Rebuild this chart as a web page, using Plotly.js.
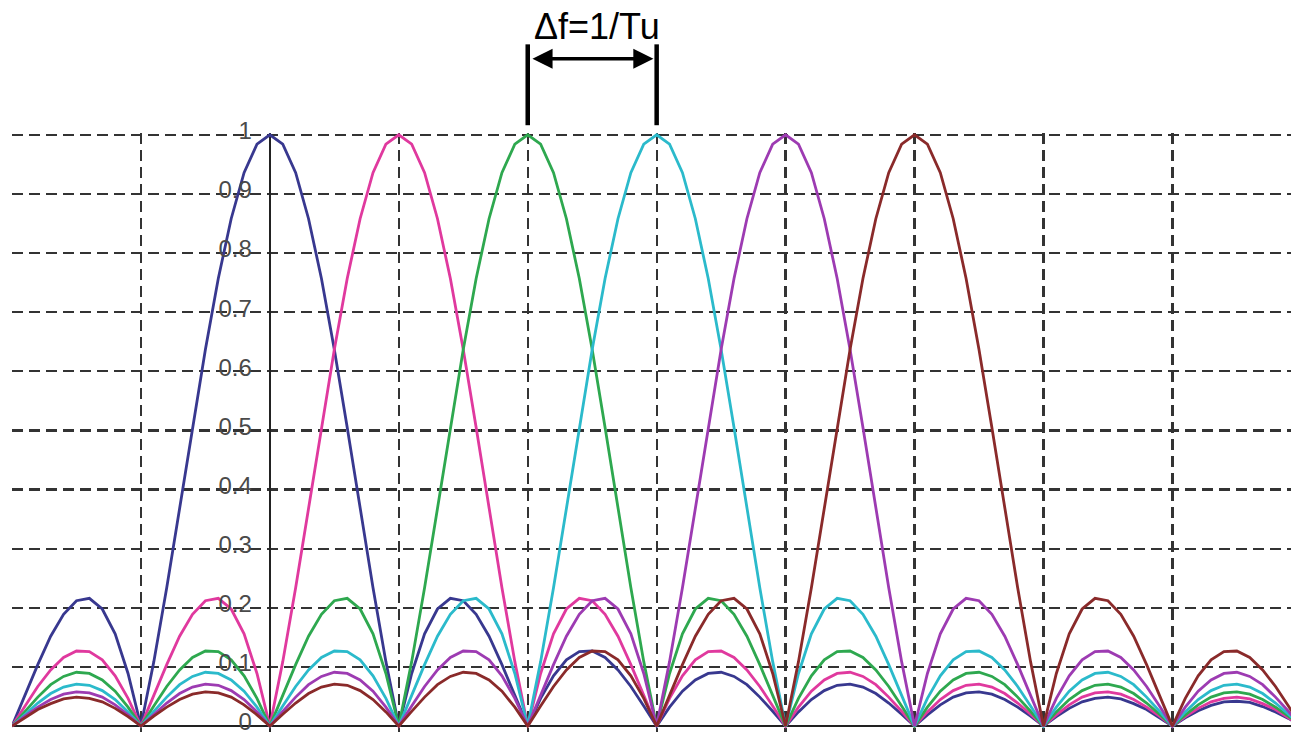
<!DOCTYPE html>
<html>
<head>
<meta charset="utf-8">
<script src="https://cdn.plot.ly/plotly-3.0.1.min.js"></script>
<style>html,body{margin:0;padding:0;background:#fff}#chart{width:1291px;height:736px}</style>
</head>
<body>
<div id="chart"></div>
<script>
// Subcarrier centre frequencies (in units of 1/Tu)
const centers = [0, 1, 2, 3, 4, 5];
const seriesNames = ['sub 0', 'sub 1', 'sub 2', 'sub 3', 'sub 4', 'sub 5'];
const colors = ['#38388f', '#e0399e', '#2ea84f', '#2bbacb', '#9d3bb2', '#8a2a2a'];
const pulseMag = [
  1.000, 0.984, 0.936, 0.858, 0.757, 0.637, 0.505, 0.368, 0.234, 0.109,
  0.000, 0.089, 0.156, 0.198, 0.216, 0.212, 0.189, 0.152, 0.104, 0.052,
  0.000, 0.047, 0.085, 0.112, 0.126, 0.127, 0.116, 0.095, 0.067, 0.034,
  0.000, 0.032, 0.059, 0.078, 0.089, 0.091, 0.084, 0.070, 0.049, 0.025,
  0.000, 0.024, 0.045, 0.060, 0.069, 0.071, 0.066, 0.055, 0.039, 0.020,
  0.000, 0.019, 0.036, 0.049, 0.056, 0.058, 0.054, 0.045, 0.032, 0.017,
  0.000, 0.016, 0.030, 0.041, 0.047, 0.049, 0.046, 0.038, 0.028, 0.014,
  0.000, 0.014, 0.026, 0.035, 0.041, 0.042, 0.040, 0.033, 0.024, 0.013,
  0.000
];
const yTickVals = [0, 0.1, 0.2, 0.3, 0.4, 0.5, 0.6, 0.7, 0.8, 0.9, 1];
const yTickText = ['0', '0.1', '0.2', '0.3', '0.4', '0.5', '0.6', '0.7', '0.8', '0.9', '1'];
const annotationText = 'Δf=1/Tu';
const spacingFrom = 2, spacingTo = 3;

const xMin = -2, xMax = 7.92;
const traces = centers.map((c, i) => {
  const xs = [], ys = [];
  for (let k = -(pulseMag.length - 1); k <= pulseMag.length - 1; k++) {
    const x = c + k / 10;
    if (x < xMin - 0.001 || x > xMax + 0.1) continue;
    xs.push(x);
    ys.push(pulseMag[Math.abs(k)]);
  }
  return {x: xs, y: ys, type: 'scatter', mode: 'lines', name: seriesNames[i],
          line: {color: colors[i], width: 2.8}, hoverinfo: 'skip'};
});

const pos0 = (0 - xMin) / (xMax - xMin);
const layout = {
  width: 1291, height: 736,
  margin: {l: 12, r: 0, t: 133, b: 4},
  paper_bgcolor: '#fff', plot_bgcolor: '#fff',
  showlegend: false,
  font: {family: 'Liberation Sans, Arial, sans-serif'},
  xaxis: {
    range: [xMin, xMax], dtick: 1, tick0: 0,
    showticklabels: false, ticks: '',
    showgrid: true, gridcolor: '#333', gridwidth: 2.3, griddash: '11px,6px',
    zeroline: true, zerolinecolor: '#222', zerolinewidth: 2,
    showline: false
  },
  yaxis: {
    range: [-0.01, 1.003], anchor: 'free', position: pos0,
    tickvals: yTickVals, ticktext: yTickText, ticks: '',
    ticklabelstandoff: 18, ticklabelshift: -4, ticklabeloverflow: 'allow',
    tickfont: {size: 24, color: '#4a4a4a', family: 'Liberation Sans, Arial, sans-serif'},
    showgrid: true, gridcolor: '#333', gridwidth: 2.3, griddash: '11px,6px',
    zeroline: true, zerolinecolor: '#222', zerolinewidth: 2,
    showline: false
  },
  shapes: [
    {type: 'line', xref: 'x', yref: 'paper', x0: spacingFrom, x1: spacingFrom, y0: 1.013, y1: 1.148,
     line: {color: '#000', width: 4.5}},
    {type: 'line', xref: 'x', yref: 'paper', x0: spacingTo, x1: spacingTo, y0: 1.013, y1: 1.148,
     line: {color: '#000', width: 4.5}}
  ],
  annotations: [
    {xref: 'x', yref: 'paper', x: (spacingFrom + spacingTo) / 2 + 0.035, y: 1.177, yanchor: 'middle',
     text: annotationText, showarrow: false,
     font: {size: 36, color: '#000', family: 'Liberation Sans, Arial, sans-serif'}},
    {xref: 'x', yref: 'paper', x: spacingTo - 0.025, y: 1.124, axref: 'x', ayref: 'pixel',
     ax: spacingFrom + 0.025, ay: 0, text: '', showarrow: true,
     arrowhead: 2, arrowside: 'end+start', arrowsize: 1.15, arrowwidth: 3.5, arrowcolor: '#000', standoff: 0, startstandoff: 0}
  ]
};

Plotly.newPlot('chart', traces, layout, {staticPlot: true, displayModeBar: false});
</script>
</body>
</html>
